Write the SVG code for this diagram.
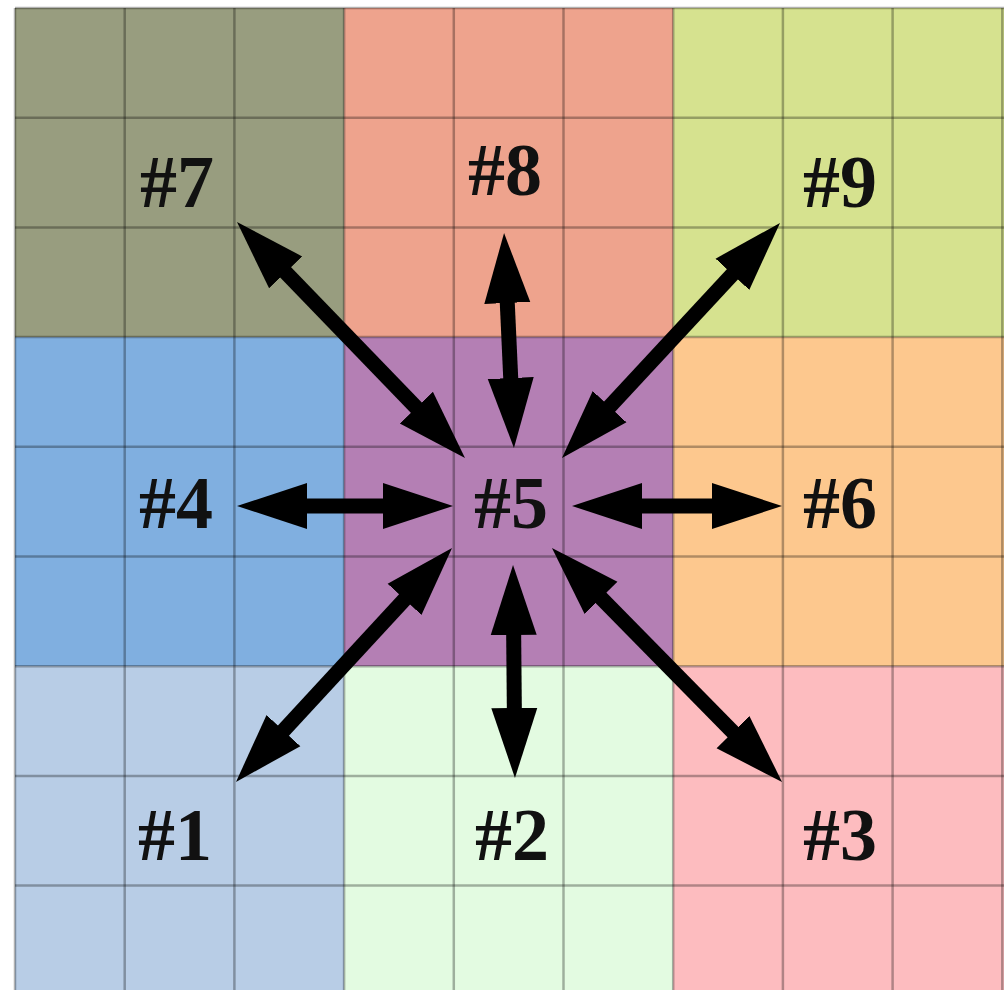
<svg xmlns="http://www.w3.org/2000/svg" width="1004" height="990" viewBox="0 0 1004 990">
<defs>
<style>
.lbl{font-family:"Liberation Serif","DejaVu Serif",serif;font-weight:bold;font-size:74px;fill:#111;text-anchor:middle}
.grid line{stroke:#000;stroke-opacity:0.3;stroke-width:2.5}
.arr{stroke:#000;stroke-width:15;fill:none;marker-start:url(#head);marker-end:url(#head)}
</style>
<marker id="head" markerUnits="userSpaceOnUse" markerWidth="80" markerHeight="60" viewBox="0 -30 80 60" refX="30" refY="0" orient="auto-start-reverse">
<path d="M0,-23 L70,0 L0,23 Z" fill="#000"/>
</marker>
</defs>
<rect width="1004" height="990" fill="#fff"/>
<g id="regions">
<rect x="15" y="8" width="329.1" height="329.1" fill="#989d7f"/>
<rect x="344.1" y="8" width="329.1" height="329.1" fill="#eea38d"/>
<rect x="673.2" y="8" width="331" height="329.1" fill="#d6e28f"/>
<rect x="15" y="337.1" width="329.1" height="329.1" fill="#80afe0"/>
<rect x="344.1" y="337.1" width="329.1" height="329.1" fill="#b47fb4"/>
<rect x="673.2" y="337.1" width="331" height="329.1" fill="#fdc88e"/>
<rect x="15" y="666.2" width="329.1" height="330" fill="#b8cde6"/>
<rect x="344.1" y="666.2" width="329.1" height="330" fill="#e3fbe1"/>
<rect x="673.2" y="666.2" width="331" height="330" fill="#fdbcbf"/>
</g>
<g class="grid">
<line x1="15" y1="8" x2="15" y2="995"/>
<line x1="124.7" y1="8" x2="124.7" y2="995"/>
<line x1="234.4" y1="8" x2="234.4" y2="995"/>
<line x1="344.1" y1="8" x2="344.1" y2="995"/>
<line x1="453.8" y1="8" x2="453.8" y2="995"/>
<line x1="563.5" y1="8" x2="563.5" y2="995"/>
<line x1="673.2" y1="8" x2="673.2" y2="995"/>
<line x1="782.9" y1="8" x2="782.9" y2="995"/>
<line x1="892.6" y1="8" x2="892.6" y2="995"/>
<line x1="1002.3" y1="8" x2="1002.3" y2="995"/>
<line x1="15" y1="8" x2="1004" y2="8"/>
<line x1="15" y1="117.7" x2="1004" y2="117.7"/>
<line x1="15" y1="227.4" x2="1004" y2="227.4"/>
<line x1="15" y1="337.1" x2="1004" y2="337.1"/>
<line x1="15" y1="446.8" x2="1004" y2="446.8"/>
<line x1="15" y1="556.5" x2="1004" y2="556.5"/>
<line x1="15" y1="666.2" x2="1004" y2="666.2"/>
<line x1="15" y1="775.9" x2="1004" y2="775.9"/>
<line x1="15" y1="885.6" x2="1004" y2="885.6"/>
</g>
<g id="node7"><text class="lbl" x="177" y="207">#7</text></g>
<g id="node8"><text class="lbl" x="505" y="195">#8</text></g>
<g id="node9"><text class="lbl" x="840" y="207">#9</text></g>
<g id="node4"><text class="lbl" x="176" y="528">#4</text></g>
<g id="node5"><text class="lbl" x="511" y="528">#5</text></g>
<g id="node6"><text class="lbl" x="840" y="528">#6</text></g>
<g id="node1"><text class="lbl" x="175" y="860">#1</text></g>
<g id="node2"><text class="lbl" x="512" y="860">#2</text></g>
<g id="node3"><text class="lbl" x="840" y="860">#3</text></g>
<g id="connectors">
<line class="arr" x1="264.8" y1="250.8" x2="437.2" y2="429.2"/>
<line class="arr" x1="505.9" y1="273" x2="512.1" y2="408"/>
<line class="arr" x1="752.8" y1="252.3" x2="589.2" y2="428.7"/>
<line class="arr" x1="277" y1="506" x2="413" y2="506"/>
<line class="arr" x1="612" y1="506" x2="742" y2="506"/>
<line class="arr" x1="263.1" y1="752.6" x2="424.9" y2="577.4"/>
<line class="arr" x1="513.4" y1="605" x2="514.6" y2="738"/>
<line class="arr" x1="580" y1="576.5" x2="754" y2="753.5"/>
</g>
</svg>
